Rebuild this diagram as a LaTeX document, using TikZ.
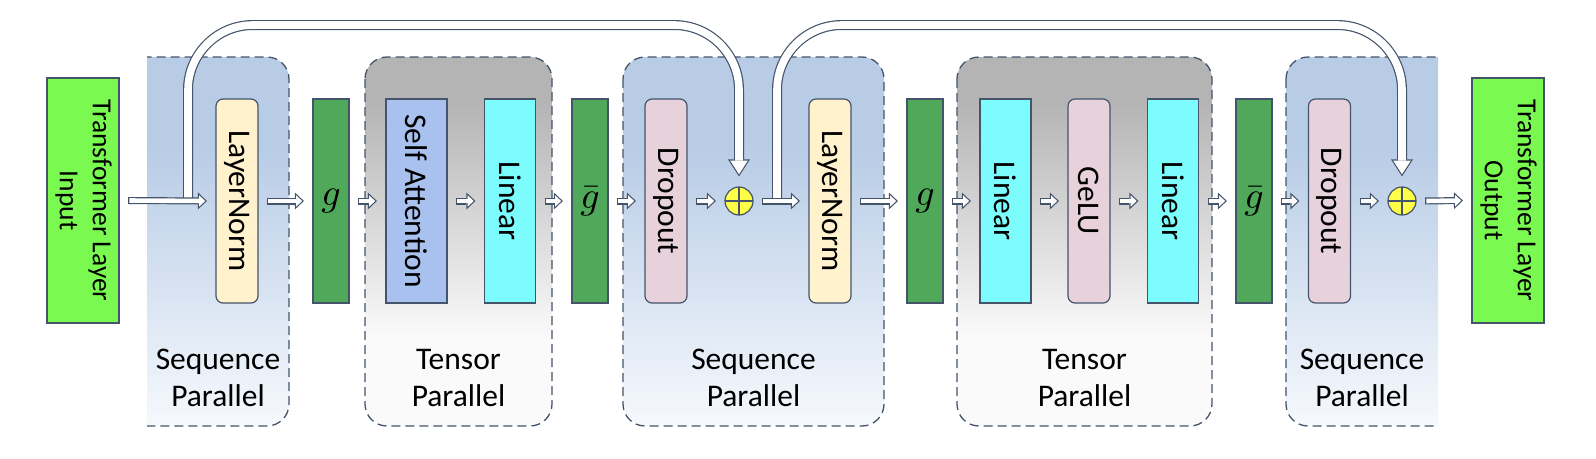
\documentclass[tikz,border=0pt]{standalone}
\usepackage{graphicx}
\usepackage{fontspec}
\setmainfont{Carlito}
\usetikzlibrary{arrows.meta,calc}

\definecolor{edge}{HTML}{44546A}
\definecolor{iogreen}{HTML}{7AFA50}
\definecolor{ggreen}{HTML}{50A85B}
\definecolor{cream}{HTML}{FFF2CC}
\definecolor{rose}{HTML}{E7D2DC}
\definecolor{sablue}{HTML}{A9C1EE}
\definecolor{lincyan}{HTML}{7CFCFC}
\definecolor{plusyel}{HTML}{FFFF47}
\definecolor{seqtop}{HTML}{B8CCE6}
\definecolor{seqbot}{HTML}{F6F9FD}
\definecolor{tentop}{HTML}{B4B4B4}
\definecolor{tenbot}{HTML}{FAFAFA}

\pgfdeclareverticalshading{seqsh}{100bp}{color(0bp)=(seqbot); color(25bp)=(seqbot); color(63bp)=(seqtop); color(100bp)=(seqtop)}
\pgfdeclareverticalshading{tensh}{100bp}{color(0bp)=(tenbot); color(37bp)=(tenbot); color(69bp)=(tentop); color(100bp)=(tentop)}

\newcommand{\rotlbl}[1]{\rotatebox{-90}{#1}}

\begin{document}
\begin{tikzpicture}[x=1pt,y=-1pt,
  blk/.style={draw=edge,line width=1.2pt,minimum height=204pt,inner sep=0pt,font=\fontsize{31.5}{36}\selectfont},
  rblk/.style={blk,rounded corners=7pt,minimum width=42pt},
  gblk/.style={blk,fill=ggreen,minimum width=36pt,font=\normalsize},
  lin/.style={blk,fill=lincyan,minimum width=51pt},
  io/.style={blk,fill=iogreen,minimum width=72pt,minimum height=245pt,font=\fontsize{27.5}{33}\selectfont},
  add/.style={circle,draw=edge,line width=1.2pt,fill=plusyel,minimum size=28pt,inner sep=0pt,
    path picture={\draw[edge,line width=1.2pt] (path picture bounding box.north) -- (path picture bounding box.south)
      (path picture bounding box.west) -- (path picture bounding box.east);}},
  grp/.style={draw=edge,line width=1.3pt,dash pattern=on 9pt off 5pt,rounded corners=22pt},
  grplbl/.style={align=center,font=\fontsize{31.5}{37}\selectfont},
  flow/.style={draw=edge,line width=7pt,-{Triangle[length=9pt,width=17pt,line width=0pt]},
    postaction={draw=white,line width=4.6pt,-{Triangle[length=6.05pt,width=11.4pt,line width=0pt]},shorten >=1.75pt,shorten <=1.2pt}},
  skip/.style={draw=edge,line width=10pt,rounded corners=65pt,-{Triangle[length=17pt,width=22pt,line width=0pt]},
    postaction={draw=white,line width=7.6pt,-{Triangle[length=13.6pt,width=17.6pt,line width=0pt]},shorten >=2.2pt}}]
\useasboundingbox (0,0) rectangle (1596,458);

% parallel regions
\begin{scope}
\clip (147,0) rectangle (300,458);
\shadedraw[grp,shading=seqsh] (120,57) rectangle (289,426);
\end{scope}
\shadedraw[grp,shading=tensh] (365,57) rectangle (552,426);
\shadedraw[grp,shading=seqsh] (623,57) rectangle (884,426);
\shadedraw[grp,shading=tensh] (957,57) rectangle (1212,426);
\begin{scope}
\clip (1270,0) rectangle (1438,458);
\shadedraw[grp,shading=seqsh] (1286,57) rectangle (1465,426);
\end{scope}
\node[grplbl] (lsq1) at (218,378) {Sequence\\Parallel};
\node[grplbl] (ltp1) at (458.5,378) {Tensor\\Parallel};
\node[grplbl] (lsq2) at (753.5,378) {Sequence\\Parallel};
\node[grplbl] (ltp2) at (1084.5,378) {Tensor\\Parallel};
\node[grplbl] (lsq3) at (1362,378) {Sequence\\Parallel};

% layer blocks
\node[io] (inp) at (83,200.5) {\rotlbl{\begin{tabular}{@{}c@{}}Transformer Layer\\Input\end{tabular}}};
\node[rblk,fill=cream] (ln1) at (237,201) {\rotlbl{LayerNorm}};
\node[gblk] (g1) at (331,201) {\scalebox{3.8}{$g$}};
\node[blk,fill=sablue,minimum width=61pt] (sa) at (416.5,201) {\rotlbl{Self Attention}};
\node[lin] (lin1) at (510,201) {\rotlbl{Linear}};
\node[gblk] (gb1) at (590,201) {\scalebox{3.8}{$\bar{g}$}};
\node[rblk,fill=rose] (do1) at (666,201) {\rotlbl{Dropout}};
\node[add] (add1) at (739,201) {};
\node[rblk,fill=cream] (ln2) at (830,201) {\rotlbl{LayerNorm}};
\node[gblk] (g2) at (925,201) {\scalebox{3.8}{$g$}};
\node[lin] (lin2) at (1005.5,201) {\rotlbl{Linear}};
\node[rblk,fill=rose] (gelu) at (1089,201) {\rotlbl{GeLU}};
\node[lin] (lin3) at (1173,201) {\rotlbl{Linear}};
\node[gblk] (gb2) at (1254,201) {\scalebox{3.8}{$\bar{g}$}};
\node[rblk,fill=rose] (do2) at (1329.5,201) {\rotlbl{Dropout}};
\node[add] (add2) at (1402,201) {};
\node[io] (outp) at (1508,200.5) {\rotlbl{\begin{tabular}{@{}c@{}}Transformer Layer\\Output\end{tabular}}};

% residual connections
\coordinate (j1) at (188,201);
\coordinate (j2) at (777,201);
\coordinate (top) at (0,25);
\draw[skip] (j1) -- (j1 |- top) -- (add1 |- top) -- ([yshift=10pt]add1.north);
\draw[skip] (j2) -- (j2 |- top) -- (add2 |- top) -- ([yshift=10pt]add2.north);

\foreach \a/\b in {inp/ln1,ln1/g1,g1/sa,sa/lin1,lin1/gb1,gb1/do1,do1/add1,add1/ln2,
  ln2/g2,g2/lin2,lin2/gelu,gelu/lin3,lin3/gb2,gb2/do2,do2/add2,add2/outp}
  \draw[flow] ([xshift=8.5pt]\a.east) -- ([xshift=-8.5pt]\b.west);
\end{tikzpicture}
\end{document}
